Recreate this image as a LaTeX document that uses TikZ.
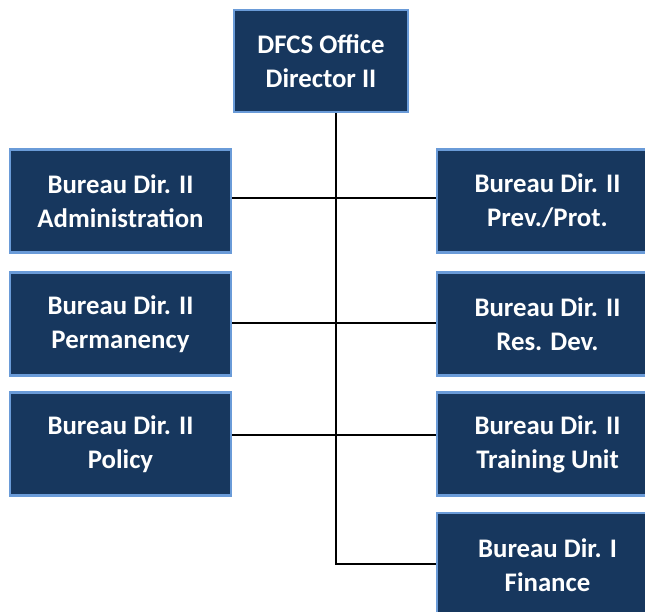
\documentclass[tikz,border=0pt]{standalone}
\usepackage{fontspec}
\setmainfont{Carlito}
\usepackage{tikz}

\definecolor{boxfill}{HTML}{17375E}
\definecolor{boxline}{HTML}{6A9BD8}

\tikzset{
  office/.style={draw=boxline, line width=2.2pt, fill=boxfill, text=white,
    font=\bfseries\fontsize{26.8}{34}\selectfont, align=center,
    inner sep=0pt, minimum width=221pt, minimum height=103pt},
  link/.style={black, line width=1.6pt}
}

\begin{document}
\begin{tikzpicture}[x=1pt, y=-1pt]
\useasboundingbox (0,0) rectangle (645,612);
\clip (0,0) rectangle (645,612);
%
\node [office, minimum width=174pt, minimum height=102pt] (dfcs) at (321,61) {DFCS Office\\Director II};
%
\node [office] (admin)  at (120.5,201) {Bureau Dir. II\\Administration};
\node [office] (perm)   at (120.5,324) {Bureau Dir. II\\Permanency};
\node [office] (policy) at (120.5,444) {Bureau Dir. II\\Policy};
%
\node [office] (prev)     at (547.5,201) {Bureau Dir. II\\Prev./Prot.};
\node [office] (resdev)   at (547.5,324) {Bureau Dir. II\\Res. Dev.};
\node [office] (training) at (547.5,444) {Bureau Dir. II\\Training Unit};
\node [office, minimum height=104pt] (finance) at (547.5,565) {Bureau Dir. I\\Finance};
%
\coordinate (spine) at (336,564);
\draw [link] (dfcs.south -| spine) -- (spine) -- (spine -| finance.west);
\draw [link] (admin.east |- 0,198)  -- (prev.west |- 0,198);
\draw [link] (perm.east |- 0,323)   -- (resdev.west |- 0,323);
\draw [link] (policy.east |- 0,435) -- (training.west |- 0,435);
%%%%%%%%%%%%%%%%%%%%%%%%%%%%%%%
\end{tikzpicture}
\end{document}
